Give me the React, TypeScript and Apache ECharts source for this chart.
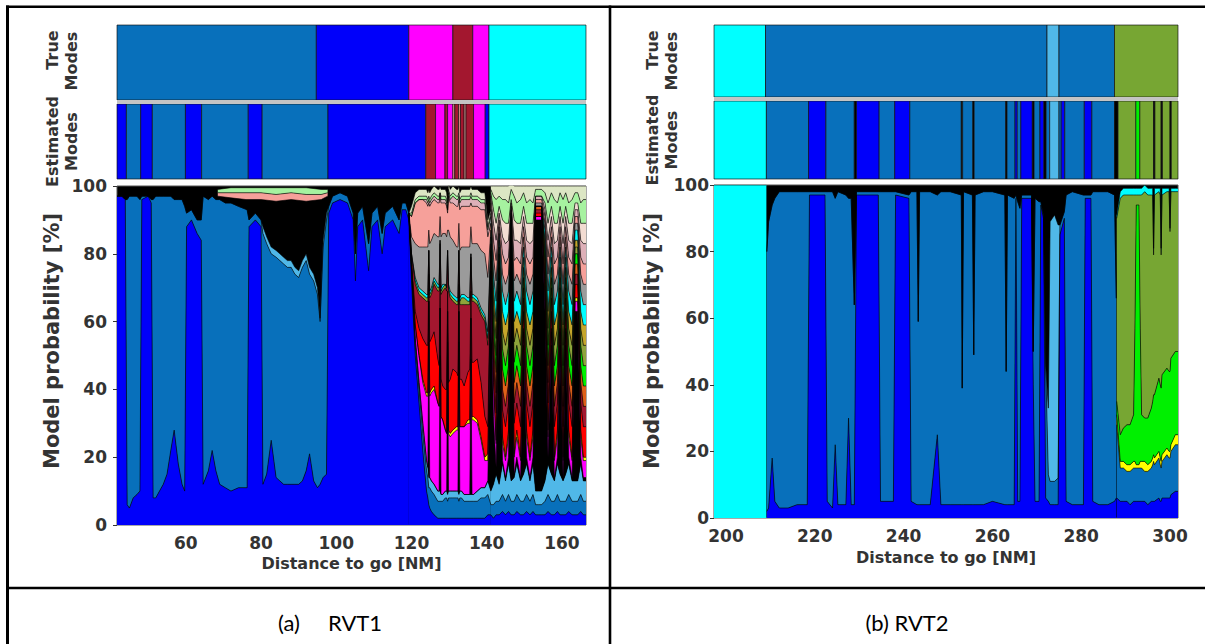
import React, { useEffect, useRef } from 'react';
import * as echarts from 'echarts';

// ---------- palette (mode name -> colour) ----------
const COLORS: Record<string, string> = {
  steel: '#0870bb', blue: '#0000fa', cyan: '#00ffff', magenta: '#ff00ff', darkred: '#a3172f',
  lb: '#50b8e8', olive: '#77a633', green: '#00f000', red: '#ff0000', gray: '#9b9b9b',
  salmon: '#f6a09a', pink: '#deb0b8', bpink: '#f2dcd2', lgreen: '#a6f2a0', beige: '#dce6c4',
  yellow: '#ffff00', orange: '#df6019', oliveA: '#8ea43a', gold: '#c5a62a', black: '#000000',
};

// ---------- (a) RVT1 ----------
const xRangeA = [41.7, 166.4];
const xTicksA = [60, 80, 100, 120, 140, 160];
const trueModesA: [number, number, string][] = [
  [41.7, 94.7, 'steel'], [94.7, 119.3, 'blue'], [119.3, 131, 'magenta'],
  [131, 136.3, 'darkred'], [136.3, 140.6, 'magenta'], [140.6, 166.4, 'cyan'],
];
const estModesA: [number, number, string][] = [
  [41.7, 44.2, 'blue'], [44.2, 48, 'steel'], [48, 51.1, 'blue'], [51.1, 59.9, 'steel'],
  [59.9, 64.2, 'blue'], [64.2, 76.6, 'steel'], [76.6, 80.3, 'blue'], [80.3, 97.8, 'steel'],
  [97.8, 123.8, 'blue'], [123.8, 126.4, 'darkred'], [126.4, 128.9, 'magenta'], [128.9, 129.6, 'darkred'],
  [129.6, 131, 'magenta'], [131, 131.5, 'salmon'], [131.5, 132.5, 'darkred'], [132.5, 133, 'salmon'],
  [133, 134, 'darkred'], [134, 134.5, 'salmon'], [134.5, 136.5, 'darkred'], [136.5, 139.6, 'magenta'],
  [139.6, 140.6, 'blue'], [140.6, 166.4, 'cyan'],
];
// rows: x, blue, steel, lb
const probLayersA1 = ['blue', 'steel', 'lb'];
const probRowsA1 = [
  [41.7, 97, 0, 0], [43, 97, 0, 0], [43.9, 96, 0, 0], [44.4, 6, 90, 0], [45, 5, 92, 0], [46, 8, 89, 0],
  [47, 9, 88, 0], [47.8, 10, 86, 0], [48.3, 96, 1, 0], [50, 97, 0, 0], [50.8, 95, 1, 0], [51.3, 8, 88, 0],
  [52, 8, 89, 0], [53, 10, 87, 0], [54, 12, 85, 0], [55, 15, 82, 0], [56, 22, 75, 0], [56.9, 28, 68, 0],
  [58, 18, 78, 0], [59, 12, 84, 0], [59.7, 10, 84, 0], [60.2, 88, 4, 0], [61.5, 90, 3, 0], [63, 86, 4, 0],
  [64.1, 84, 6, 0], [64.6, 12, 85, 0], [66, 16, 80, 0], [67, 22, 75, 0], [68, 16, 80, 0], [69, 12, 84, 0],
  [70.5, 11, 84, 0], [72, 10, 85, 0], [74, 11, 83, 0], [76.3, 11, 82, 0], [76.8, 88, 2, 0], [78.5, 90, 2, 0],
  [80, 88, 2, 0], [80.5, 12, 74, 2], [81.5, 15, 68, 2], [82.7, 25, 55, 2], [84, 14, 65, 2], [85, 13, 65, 2],
  [86, 12, 65, 2], [87, 12, 64, 2], [88, 12, 64, 2], [89, 12, 62, 2], [90, 12, 61, 2], [91, 13, 63, 2],
  [92, 16, 62, 2], [92.9, 21, 53, 2], [94, 13, 59, 2], [95, 11, 57, 2], [95.7, 12, 48, 1], [96.5, 14, 68, 2],
  [97.4, 15, 75, 2], [98, 92, 2, 0], [99, 95, 2, 0], [101, 96, 2, 0], [103, 95, 2, 0], [104.5, 90, 2, 0],
  [105.1, 72, 8, 0], [105.7, 88, 4, 0], [107, 90, 4, 0], [108.6, 75, 8, 0], [109.5, 88, 4, 0], [111, 90, 4, 0],
  [112.2, 80, 6, 0], [113, 88, 4, 0], [115, 90, 4, 0], [116.7, 86, 4, 0], [117.5, 93, 2, 0], [118.5, 93, 2, 0],
  [119.3, 90, 2, 0],
];
// unresolved black mass with a thin coloured crust at the very top (rows: x, black, salmon, lgreen);
// drawn underneath region a1, so it only shows above the a1 layers
const probLayersA1Top = ['black', 'salmon', 'lgreen'];
const probRowsA1Top = [
  [68.5, 97, 1, 1], [72, 96.5, 1.5, 1.5], [76, 96, 2, 1.5], [80, 96, 2, 1.5], [84, 95.5, 2, 2],
  [88, 96, 2, 1.5], [92, 95.5, 2, 2], [96, 96, 1.5, 1.5], [97.7, 97, 1, 1],
];
const probLayersA2 = ['blue', 'steel', 'lb', 'black', 'magenta', 'yellow', 'red', 'darkred', 'oliveA', 'cyan', 'gray', 'salmon', 'pink', 'lgreen', 'beige'];
const probRowsA2 = [
  [119.3, 90, 2, 0, 0, 0, 0, 0, 0, 0, 0, 0, 0, 0, 0, 0],
  [120, 72, 3, 1, 0, 1, 0, 1, 2, 0, 0, 5, 6, 0, 1, 2],
  [121, 50, 3, 2, 0, 4, 0, 4, 8, 1, 1, 10, 12, 0, 1, 2],
  [122, 36, 4, 2, 0, 8, 0, 8, 10, 1, 1, 12, 14, 0, 1, 2],
  [123, 22, 5, 3, 0, 12, 1, 12, 12, 1, 1, 13, 14, 0, 1, 2],
  [124, 10, 6, 3, 0, 19, 1, 14, 13, 1, 1, 14, 13, 1, 1, 2],
  [124.35, 8, 6, 3, 0, 21, 1, 14, 13, 1, 1, 14, 12, 1, 1, 2],
  [124.6, 6, 5, 3, 40, 12, 0, 8, 7, 0, 0, 6, 8, 1, 1, 2],
  [124.85, 5, 6, 3, 0, 24, 1, 15, 13, 1, 1, 14, 11, 1, 1, 2],
  [125.3, 4, 6, 3, 0, 26, 1, 15, 13, 1, 1, 14, 11, 1, 1, 2],
  [126, 3, 6, 3, 0, 28, 1, 16, 14, 1, 1, 13, 10, 1, 1, 2],
  [127, 2, 5, 3, 0, 26, 0, 13, 20, 1, 1, 14, 10, 1, 1, 2],
  [127.35, 2, 5, 3, 0, 25, 0, 12, 22, 1, 1, 14, 10, 1, 1, 2],
  [127.6, 2, 5, 3, 40, 14, 0, 7, 12, 1, 0, 7, 6, 1, 0, 2],
  [127.85, 2, 5, 2, 0, 23, 0, 11, 25, 1, 1, 15, 10, 1, 1, 2],
  [128.3, 2, 5, 2, 0, 22, 0, 10, 28, 1, 1, 15, 9, 1, 1, 2],
  [129, 2, 6, 2, 0, 18, 0, 12, 30, 1, 0, 15, 9, 1, 1, 2],
  [129.35, 2, 6, 2, 0, 17, 0, 13, 29, 1, 0, 15, 9, 1, 1, 2],
  [129.6, 2, 5, 2, 45, 9, 0, 6, 12, 0, 0, 6, 5, 1, 0, 2],
  [129.85, 2, 6, 2, 0, 17, 1, 14, 27, 1, 1, 16, 10, 1, 1, 2],
  [130.3, 2, 6, 2, 0, 16, 1, 16, 24, 1, 1, 16, 10, 1, 1, 2],
  [131, 2, 6, 2, 0, 17, 1, 18, 20, 1, 1, 16, 11, 2, 1, 2],
  [132, 2, 6, 2, 0, 18, 1, 16, 20, 1, 1, 15, 12, 2, 1, 2],
  [132.35, 2, 6, 2, 0, 18, 1, 15, 21, 1, 1, 15, 12, 2, 1, 2],
  [132.6, 2, 5, 2, 45, 9, 0, 8, 10, 0, 0, 8, 7, 1, 1, 2],
  [132.85, 2, 6, 2, 0, 19, 0, 14, 22, 1, 1, 14, 12, 2, 1, 2],
  [133.3, 2, 6, 2, 0, 19, 0, 14, 22, 2, 1, 14, 12, 2, 1, 2],
  [134, 2, 5, 2, 0, 20, 0, 12, 24, 2, 1, 14, 12, 2, 1, 2],
  [135, 2, 5, 2, 0, 21, 1, 14, 20, 1, 1, 15, 12, 2, 1, 2],
  [135.5, 2, 5, 2, 0, 21, 1, 15, 19, 1, 1, 15, 12, 2, 1, 2],
  [135.8, 2, 5, 2, 40, 12, 0, 8, 10, 1, 0, 8, 7, 2, 1, 2],
  [136.1, 2, 5, 2, 0, 22, 1, 16, 18, 1, 1, 15, 11, 2, 1, 2],
  [136.5, 2, 5, 2, 0, 22, 1, 16, 18, 1, 1, 15, 11, 2, 1, 2],
  [137.5, 2, 5, 3, 0, 20, 1, 18, 16, 1, 1, 16, 11, 2, 1, 2],
  [138.5, 2, 6, 3, 0, 14, 1, 16, 20, 1, 1, 17, 12, 2, 1, 2],
  [139.5, 2, 6, 3, 0, 8, 1, 12, 28, 1, 1, 18, 13, 2, 1, 2],
  [140.3, 3, 6, 4, 0, 6, 2, 8, 24, 2, 2, 16, 12, 2, 1, 2],
  [141.1, 3, 3, 4, 60, 5, 0, 3, 3, 2, 2, 2, 2, 2, 1, 1],
];
const probLayersA3 = ['blue', 'steel', 'lb', 'black', 'magenta', 'yellow', 'red', 'darkred', 'orange', 'green', 'oliveA', 'gold', 'cyan', 'gray', 'salmon', 'pink', 'bpink', 'lgreen', 'beige'];
const probRowsA3 = [
  [141.1, 3, 3, 4, 60, 5, 0, 3, 3, 2, 2, 2, 2, 2, 2, 2, 2, 1, 1, 1],
  [141.8, 2, 4, 6, 20, 10, 1, 6, 5, 4, 4, 4, 4, 4, 5, 5, 5, 4, 4, 3],
  [142.5, 3, 4, 8, 2, 7, 1, 8, 6, 6, 5, 5, 5, 6, 6, 6, 6, 5, 7, 4],
  [143.3, 3, 4, 5, 53, 4, 1, 3, 3, 2, 2, 2, 2, 2, 2, 2, 2, 2, 3, 3],
  [144.2, 4, 5, 9, 1, 5, 2, 8, 6, 6, 6, 5, 6, 6, 5, 6, 5, 5, 6, 4],
  [145, 3, 4, 6, 1, 5, 1, 9, 6, 6, 6, 6, 6, 6, 6, 6, 6, 6, 7, 4],
  [145.8, 4, 5, 9, 2, 6, 2, 8, 6, 5, 6, 5, 5, 6, 5, 5, 5, 5, 6, 5],
  [146.5, 3, 4, 6, 66, 3, 1, 2, 2, 1, 1, 1, 1, 1, 1, 1, 1, 1, 3, 2],
  [147.3, 3, 4, 7, 1, 5, 1, 9, 6, 6, 6, 6, 6, 6, 6, 6, 6, 6, 7, 3],
  [148, 4, 5, 9, 2, 6, 2, 8, 6, 5, 6, 5, 5, 6, 5, 5, 5, 5, 6, 5],
  [149, 3, 4, 6, 1, 5, 1, 9, 6, 6, 6, 6, 6, 6, 6, 6, 6, 6, 7, 4],
  [149.8, 3, 4, 8, 38, 4, 1, 5, 4, 3, 3, 3, 3, 3, 3, 3, 3, 3, 4, 2],
  [150.6, 4, 5, 9, 2, 6, 2, 8, 6, 5, 6, 5, 5, 6, 5, 5, 5, 5, 6, 5],
  [151.5, 3, 4, 6, 1, 5, 1, 9, 6, 6, 6, 6, 6, 6, 6, 6, 6, 6, 7, 4],
  [152.3, 4, 5, 9, 2, 6, 2, 8, 6, 5, 6, 5, 5, 6, 5, 5, 5, 5, 6, 5],
  [153, 3, 3, 4, 80, 1, 0, 1, 1, 1, 0, 0, 0, 0, 1, 1, 1, 0, 2, 1],
  [153.8, 3, 3, 4, 80, 1, 0, 1, 1, 1, 0, 0, 0, 0, 1, 1, 1, 0, 2, 1],
  [154.6, 3, 3, 4, 80, 1, 0, 1, 1, 1, 0, 0, 0, 0, 1, 1, 1, 0, 2, 1],
  [155.5, 3, 4, 6, 50, 3, 1, 4, 3, 3, 3, 2, 2, 3, 2, 2, 2, 2, 3, 2],
  [156.3, 4, 5, 9, 2, 6, 2, 8, 6, 5, 6, 5, 5, 6, 5, 5, 5, 5, 6, 5],
  [157.2, 3, 4, 8, 38, 4, 1, 5, 4, 3, 3, 3, 3, 3, 3, 3, 3, 3, 4, 2],
  [158, 3, 4, 6, 1, 5, 1, 9, 6, 6, 6, 6, 6, 6, 6, 6, 6, 6, 7, 4],
  [158.8, 4, 5, 9, 2, 6, 2, 8, 6, 5, 6, 5, 5, 6, 5, 5, 5, 5, 6, 5],
  [159.5, 3, 4, 8, 38, 4, 1, 5, 4, 3, 3, 3, 3, 3, 3, 3, 3, 3, 4, 2],
  [160.3, 3, 4, 6, 1, 5, 1, 9, 6, 6, 6, 6, 6, 6, 6, 6, 6, 6, 7, 4],
  [161, 3, 4, 8, 38, 4, 1, 5, 4, 3, 3, 3, 3, 3, 3, 3, 3, 3, 4, 2],
  [161.8, 4, 5, 9, 2, 6, 2, 8, 6, 5, 6, 5, 5, 6, 5, 5, 5, 5, 6, 5],
  [162.7, 3, 4, 6, 1, 5, 1, 9, 6, 6, 6, 6, 6, 6, 6, 6, 6, 6, 7, 4],
  [163.5, 3, 4, 6, 50, 3, 1, 4, 3, 3, 3, 2, 2, 3, 2, 2, 2, 2, 3, 2],
  [164.2, 3, 4, 6, 50, 3, 1, 4, 3, 3, 3, 2, 2, 3, 2, 2, 2, 2, 3, 2],
  [165, 4, 5, 9, 2, 6, 2, 8, 6, 5, 6, 5, 5, 6, 5, 5, 5, 5, 6, 5],
  [165.7, 3, 4, 6, 1, 5, 1, 9, 6, 6, 6, 6, 6, 6, 6, 6, 6, 6, 7, 4],
  [166.4, 3, 4, 6, 1, 5, 1, 9, 6, 6, 6, 6, 6, 6, 6, 6, 6, 6, 7, 4],
];

// ---------- (b) RVT2 ----------
const xRangeB = [197.3, 301.8];
const xTicksB = [200, 220, 240, 260, 280, 300];
const trueModesB: [number, number, string][] = [
  [197.3, 208.9, 'cyan'], [208.9, 272.3, 'steel'], [272.3, 275, 'lb'], [275, 287.5, 'steel'], [287.5, 301.8, 'olive'],
];
const estModesB: [number, number, string][] = [
  [197.3, 209.1, 'cyan'], [209.1, 218.6, 'steel'], [218.6, 222.5, 'blue'], [222.5, 228.9, 'steel'],
  [228.9, 229.4, 'black'], [229.4, 234.5, 'blue'], [234.5, 238, 'steel'], [238, 241.4, 'blue'],
  [241.4, 253, 'steel'], [253, 253.3, 'black'], [253.3, 255.6, 'steel'], [255.6, 255.9, 'black'],
  [255.9, 263, 'steel'], [263, 263.3, 'black'], [263.3, 265.1, 'steel'], [265.1, 265.6, 'blue'],
  [265.6, 266.4, 'steel'], [266.4, 269, 'blue'], [269, 269.4, 'black'], [269.4, 270.7, 'steel'],
  [270.7, 271.6, 'blue'], [271.6, 272.1, 'black'], [272.1, 272.9, 'steel'], [272.9, 275, 'lb'],
  [275, 275.5, 'steel'], [275.5, 276.3, 'blue'], [276.3, 280.7, 'steel'], [280.7, 282.4, 'blue'],
  [282.4, 287.5, 'steel'], [287.5, 288.3, 'black'], [288.3, 292.3, 'olive'], [292.3, 293.2, 'green'],
  [293.2, 296.3, 'olive'], [296.3, 296.6, 'black'], [296.6, 298, 'olive'], [298, 298.3, 'black'],
  [298.3, 300, 'olive'], [300, 300.3, 'black'], [300.3, 301.8, 'olive'],
];
const probLayersB1 = ['cyan'];
const probRowsB1 = [[197.3, 100], [209.1, 100]];
// rows: x, blue, steel, lb
const probLayersB2 = ['blue', 'steel', 'lb'];
const probRowsB2 = [
  [209.2, 2, 78, 0], [209.6, 3, 86, 0], [210.4, 18, 76, 0], [211, 5, 91, 0], [212, 3, 95, 0], [214, 3, 95, 0],
  [216, 4, 94, 0], [218.3, 4, 94, 0], [218.8, 97, 1, 0], [222.3, 97, 1, 0], [222.8, 5, 93, 0], [224, 3, 95, 0],
  [224.6, 22, 74, 0], [225.2, 4, 94, 0], [227, 4, 93, 0], [227.6, 30, 66, 0], [228.2, 4, 92, 0], [228.9, 4, 60, 0],
  [229.4, 97, 1, 0], [234.3, 97, 1, 0], [234.8, 5, 93, 0], [237.7, 5, 93, 0], [238.2, 97, 1, 0], [241.2, 96, 1, 0],
  [241.7, 5, 93, 0], [243, 4, 94, 0], [243.3, 4, 55, 0], [243.6, 4, 94, 0], [246, 4, 94, 0], [247.6, 25, 72, 0],
  [248.4, 4, 94, 0], [250.5, 4, 94, 0], [253, 4, 93, 0], [253.2, 4, 35, 0], [253.5, 4, 94, 0], [255.5, 4, 93, 0],
  [255.8, 4, 45, 0], [256.1, 4, 93, 0], [258, 4, 94, 0], [260, 5, 93, 0], [262.8, 4, 93, 0], [263.1, 4, 40, 0],
  [263.4, 4, 93, 0], [264.9, 4, 92, 0], [265.3, 96, 1, 0], [265.7, 5, 90, 0], [266.2, 5, 88, 0], [266.6, 96, 1, 0],
  [268.8, 96, 1, 0], [269.2, 40, 10, 0], [269.6, 5, 91, 0], [270.5, 5, 90, 0], [270.9, 94, 1, 0], [271.5, 90, 1, 0],
  [272, 6, 40, 0], [272.6, 5, 8, 20], [273, 4, 7, 78], [274, 4, 7, 80], [274.8, 4, 8, 76], [275.2, 85, 3, 0],
  [276.2, 90, 2, 0], [276.6, 5, 92, 0], [278, 4, 94, 0], [280.5, 4, 93, 0], [280.9, 96, 1, 0], [282.2, 96, 1, 0],
  [282.6, 5, 93, 0], [284, 4, 94, 0], [286, 4, 94, 0], [287.5, 5, 92, 0], [287.9, 6, 60, 0],
];
// rows: x, blue, steel, yellow, green, olive, cyan
const probLayersB3 = ['blue', 'steel', 'yellow', 'green', 'olive', 'cyan'];
const probRowsB3 = [
  [288, 6, 22, 3, 4, 55, 1], [288.8, 5, 10, 2, 8, 71, 2], [289.5, 5, 10, 2, 10, 70, 2], [290.3, 5, 9, 2, 12, 69, 2],
  [291, 4, 10, 2, 12, 69, 2], [291.8, 5, 10, 2, 14, 66, 2], [292.1, 5, 10, 2, 40, 40, 2], [292.4, 5, 10, 1, 78, 3, 2],
  [293, 5, 10, 1, 78, 3, 2], [293.3, 5, 10, 2, 40, 40, 2], [293.6, 5, 10, 2, 14, 66, 2], [294.3, 5, 9, 3, 13, 68, 2],
  [295, 4, 10, 2, 14, 67, 2], [295.8, 5, 10, 2, 16, 64, 2], [296.1, 5, 11, 2, 17, 62, 2], [296.3, 5, 12, 2, 18, 42, 2],
  [296.5, 5, 11, 2, 19, 60, 2], [297.5, 6, 12, 2, 22, 56, 1], [297.8, 5, 11, 2, 22, 57, 2], [298, 5, 10, 2, 22, 40, 2],
  [298.2, 6, 11, 2, 24, 54, 2], [299.3, 6, 13, 2, 24, 53, 1], [299.8, 6, 12, 2, 24, 54, 1], [300, 6, 12, 2, 24, 42, 1],
  [300.2, 7, 13, 2, 26, 50, 1], [301.2, 8, 14, 3, 25, 48, 1], [301.8, 8, 14, 3, 25, 48, 1],
];

// ---------- layout ----------
const LA = { left: 117, width: 469, trueTop: 25, trueH: 75, estTop: 104, estH: 75, probTop: 186, probH: 339 };
const LB = { left: 714, width: 464, trueTop: 25, trueH: 72, estTop: 101, estH: 78, probTop: 185, probH: 333 };
const FONT = 'DejaVu Sans';

// Stacked bands. Each row is [value, x] with encode {x: 1, y: 0}, so that
// ECharts stacks the probability (y) dimension, by index, within each region.
function stackSeries(rows: number[][], layers: string[], stackId: string, axisIdx: number) {
  return layers.map((name, li) => ({
    type: 'line', name: stackId + '-' + name, stack: stackId, stackStrategy: 'all',
    xAxisIndex: axisIdx, yAxisIndex: axisIdx,
    encode: { x: 1, y: 0 },
    data: rows.map((r) => [r[li + 1], r[0]]),
    symbol: 'none', showSymbol: false, silent: true, smooth: false,
    lineStyle: { color: '#000', width: 0.6 },
    areaStyle: { color: COLORS[name], opacity: 1 },
  }));
}

function modeSeries(segs: [number, number, string][], axisIdx: number) {
  return {
    type: 'custom', xAxisIndex: axisIdx, yAxisIndex: axisIdx, silent: true, clip: true,
    encode: { x: [0, 1] },
    data: segs.map((s) => ({ value: [s[0], s[1]], itemStyle: { color: COLORS[s[2]] } })),
    renderItem: (params: any, api: any) => {
      const p0 = api.coord([api.value(0), 1]);
      const p1 = api.coord([api.value(1), 0]);
      return {
        type: 'rect',
        shape: { x: p0[0], y: p0[1], width: p1[0] - p0[0], height: p1[1] - p0[1] },
        style: { fill: api.visual('color'), stroke: '#111', lineWidth: 0.7 },
      };
    },
  };
}

function grids(L: typeof LA) {
  return [
    { left: L.left, top: L.trueTop, width: L.width, height: L.trueH, show: true, borderColor: '#666', borderWidth: 1, backgroundColor: '#fff' },
    { left: L.left, top: L.estTop, width: L.width, height: L.estH, show: true, borderColor: '#666', borderWidth: 1, backgroundColor: '#fff' },
    { left: L.left, top: L.probTop, width: L.width, height: L.probH, show: true, borderColor: '#555', borderWidth: 1, backgroundColor: '#000' },
  ];
}

const tickLabelStyle = { fontFamily: FONT, fontWeight: 'bold' as const, fontSize: 17, color: '#333' };

function xAxes(gi0: number, range: number[], ticks: number[], nameGap: number) {
  return [0, 1, 2].map((k) => ({
    type: 'value', gridIndex: gi0 + k, min: range[0], max: range[1],
    axisLine: { show: false }, splitLine: { show: false },
    axisTick: { show: true, inside: true, length: 4, customValues: ticks, lineStyle: { color: '#333' } },
    axisLabel: k === 2 ? { show: true, customValues: ticks, margin: 9, ...tickLabelStyle } : { show: false },
    name: k === 2 ? 'Distance to go [NM]' : '',
    nameLocation: 'middle', nameGap,
    nameTextStyle: { fontFamily: FONT, fontWeight: 'bold', fontSize: 16, color: '#333' },
  }));
}

function yAxes(gi0: number, labelMargin: number) {
  return [0, 1, 2].map((k) => k === 2 ? ({
    type: 'value', gridIndex: gi0 + k, min: 0, max: 100, interval: 20,
    axisLine: { show: false }, splitLine: { show: false },
    axisTick: { show: true, inside: false, length: 4, lineStyle: { color: '#333' } },
    axisLabel: { show: true, margin: labelMargin, ...tickLabelStyle },
  }) : ({
    type: 'value', gridIndex: gi0 + k, min: 0, max: 1,
    axisLine: { show: false }, splitLine: { show: false },
    axisTick: { show: true, inside: true, length: 4, customValues: [0.5], lineStyle: { color: '#333' } },
    axisLabel: { show: false },
  }));
}

function rotLabel(text: string, x: number, y: number, size = 16) {
  return {
    type: 'text', x, y, rotation: Math.PI / 2,
    style: { text, fill: '#333', fontFamily: FONT, fontWeight: 'bold', fontSize: size, align: 'center', verticalAlign: 'middle' },
  };
}

function panelLabels(L: typeof LA, cx: number) {
  return [
    rotLabel('True', cx, 50), rotLabel('Modes', cx + 19, 61),
    rotLabel('Estimated', cx, L.estTop + L.estH / 2), rotLabel('Modes', cx + 19, L.estTop + L.estH / 2),
    rotLabel('Model probability [%]', cx, 341, 21),
    { type: 'rect', shape: { x: L.left, y: L.trueTop + L.trueH, width: L.width, height: L.estTop - L.trueTop - L.trueH }, style: { fill: '#c4c4c4' } },
  ];
}

const captionStyle = { fill: '#000', fontFamily: 'Lato', fontSize: 22, verticalAlign: 'middle' };

export default function App() {
  const ref = useRef<HTMLDivElement>(null);
  useEffect(() => {
    if (!ref.current) return;
    const chart = echarts.init(ref.current, undefined, { renderer: 'svg' });
    const lineStyle = { stroke: '#000', lineWidth: 2.6 };
    chart.setOption({
      animation: false,
      backgroundColor: '#fff',
      grid: [...grids(LA), ...grids(LB)],
      xAxis: [...xAxes(0, xRangeA, xTicksA, 28), ...xAxes(3, xRangeB, xTicksB, 31)],
      yAxis: [...yAxes(0, 10), ...yAxes(3, 5)],
      series: [
        modeSeries(trueModesA, 0), modeSeries(estModesA, 1),
        ...stackSeries(probRowsA1Top, probLayersA1Top, 'a1top', 2),
        ...stackSeries(probRowsA1, probLayersA1, 'a1', 2),
        ...stackSeries(probRowsA2, probLayersA2, 'a2', 2),
        ...stackSeries(probRowsA3, probLayersA3, 'a3', 2),
        modeSeries(trueModesB, 3), modeSeries(estModesB, 4),
        ...stackSeries(probRowsB1, probLayersB1, 'b1', 5),
        ...stackSeries(probRowsB2, probLayersB2, 'b2', 5),
        ...stackSeries(probRowsB3, probLayersB3, 'b3', 5),
      ],
      graphic: [
        { type: 'line', shape: { x1: 6, y1: 6.7, x2: 1205, y2: 6.7 }, style: lineStyle },
        { type: 'line', shape: { x1: 7.5, y1: 5.5, x2: 7.5, y2: 644 }, style: { ...lineStyle, lineWidth: 3 } },
        { type: 'line', shape: { x1: 610, y1: 5.5, x2: 610, y2: 644 }, style: lineStyle },
        { type: 'line', shape: { x1: 6, y1: 588, x2: 1205, y2: 588 }, style: lineStyle },
        { type: 'text', x: 278, y: 622, style: { ...captionStyle, text: '(a)', align: 'left' } },
        { type: 'text', x: 328, y: 622, style: { ...captionStyle, text: 'RVT1', align: 'left' } },
        { type: 'text', x: 907, y: 622, style: { ...captionStyle, text: '(b) RVT2', align: 'center' } },
        ...panelLabels(LA, 52),
        ...panelLabels(LB, 652),
      ],
    });
    return () => chart.dispose();
  }, []);
  return <div ref={ref} style={{ position: 'absolute', left: 0, top: 0, width: 1205, height: 644, background: '#fff' }} />;
}
